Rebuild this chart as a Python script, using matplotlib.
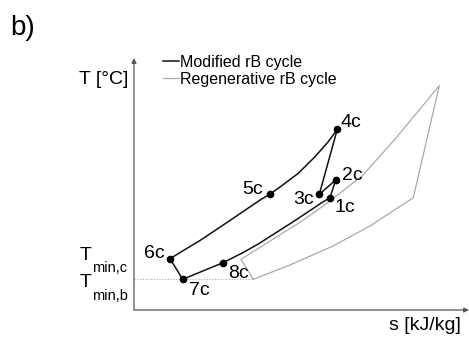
import matplotlib
matplotlib.use("Agg")
import matplotlib.pyplot as plt
from matplotlib.lines import Line2D

plt.rcParams['font.family'] = ['Liberation Sans', 'DejaVu Sans']

# ---- data (arbitrary s / T units) ----
# Modified rB cycle: state points
state_labels = ["1c", "2c", "3c", "4c", "5c", "6c", "7c", "8c"]
state_s = [196.0, 201.7, 185.3, 203.3, 136.3, 36.0, 48.7, 89.0]
state_T = [112.3, 130.0, 115.7, 180.7, 116.0, 51.3, 30.7, 47.3]

# Modified cycle path (1c-2c-3c-4c, curve 4c-5c-6c, 6c-7c, curve 7c-8c-1c)
mod_s = [196.0, 201.7, 185.3, 203.3, 194.3, 181.0, 164.3, 151.0, 136.3,
         127.7, 114.3, 97.7, 81.0, 66.0, 51.0, 36.0,
         48.7, 89.0, 107.7, 124.3, 141.0, 157.7, 174.3, 187.7, 196.0]
mod_T = [112.3, 130.0, 115.7, 180.7, 168.3, 153.3, 136.7, 126.7, 116.0,
         111.0, 102.0, 90.7, 79.5, 69.5, 60.5, 51.3,
         30.7, 47.3, 56.7, 66.0, 76.7, 87.3, 98.3, 107.3, 112.3]

# Regenerative rB cycle path
reg_s = [119.3, 107.0, 141.0, 168.0, 196.0, 229.0, 262.0, 305.3,
         279.3, 236.0, 199.0, 156.0, 119.3]
reg_T = [30.7, 50.7, 72.0, 89.0, 109.0, 135.0, 172.0, 224.3,
         112.3, 84.0, 64.0, 45.0, 30.7]

T_min_b = 30.7
T_min_c = 51.3

# ---- figure ----
fig = plt.figure(figsize=(4.69, 3.38), dpi=100)
ax = fig.add_axes([0, 0, 1, 1])
ax.set_xlim(-134, 335)
ax.set_ylim(-28, 310)
ax.axis('off')

axis_col = '#555555'
ax.annotate('', xy=(335, 0), xytext=(0, 0),
            arrowprops=dict(arrowstyle='-|>', color=axis_col, lw=0.9,
                            mutation_scale=7, shrinkA=0, shrinkB=0))
ax.annotate('', xy=(0, 252), xytext=(0, 0),
            arrowprops=dict(arrowstyle='-|>', color=axis_col, lw=0.9,
                            mutation_scale=7, shrinkA=0, shrinkB=0))

# dotted T_min,b line
ax.plot([0, reg_s[0]], [T_min_b, T_min_b], color='#aaaaaa', lw=0.8,
        linestyle=(0, (1, 1.5)))

ax.plot(reg_s, reg_T, color='#aaaaaa', lw=0.9)
ax.plot(mod_s, mod_T, color='#111111', lw=1.1)
ax.plot(state_s, state_T, 'o', color='black', markersize=4.5, linestyle='none')

# state labels
label_offsets = {
    "1c": (14.5, -10.3), "2c": (16.3, 5.0), "3c": (-15.6, -4.7),
    "4c": (14.0, 6.6), "5c": (-17.3, 4.0), "6c": (-16.0, 4.9),
    "7c": (17.0, -11.5), "8c": (15.7, -10.6),
}
for lab, s, T in zip(state_labels, state_s, state_T):
    dx, dy = label_offsets[lab]
    ax.text(s + dx, T + dy, lab, fontsize=14, ha='center', va='center')

# axis labels
ax.text(-6, 230, 'T [°C]', fontsize=14, ha='right', va='center')
ax.text(291, -16, 's [kJ/kg]', fontsize=14, ha='center', va='center')
ax.text(-124, 282, 'b)', fontsize=20, ha='left', va='center')

# T_min labels
ax.text(-54, T_min_c + 3, 'T', fontsize=14, ha='left', va='center')
ax.text(-41.5, T_min_c - 9.5, 'min,c', fontsize=10.5, ha='left', va='center')
ax.text(-54, T_min_b - 3, 'T', fontsize=14, ha='left', va='center')
ax.text(-41.5, T_min_b - 16.5, 'min,b', fontsize=10.5, ha='left', va='center')

# legend
handles = [Line2D([], [], color='#111111', lw=1.1),
           Line2D([], [], color='#aaaaaa', lw=0.9)]
ax.legend(handles, ['Modified rB cycle', 'Regenerative rB cycle'],
          loc='upper left', bbox_to_anchor=(28.7, 255), bbox_transform=ax.transData,
          frameon=False, fontsize=11.5, handlelength=1.0, handletextpad=0.1,
          labelspacing=0.1, borderpad=0, borderaxespad=0)

fig.savefig('out.png', dpi=100)
